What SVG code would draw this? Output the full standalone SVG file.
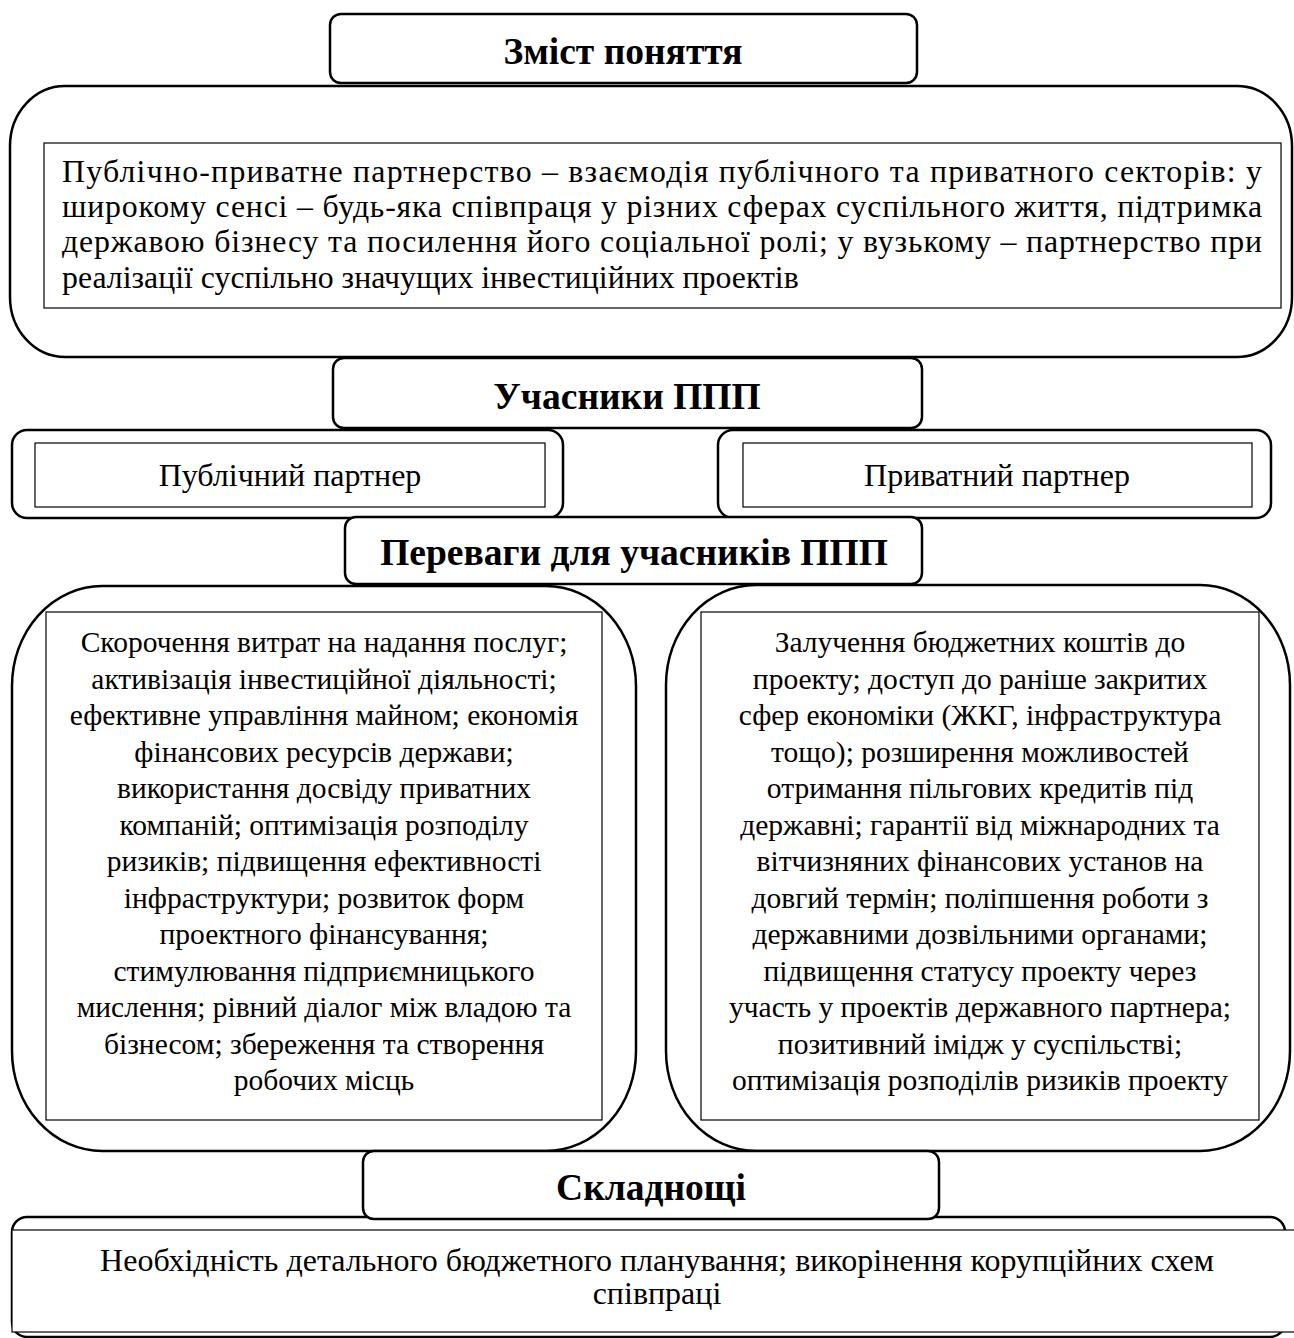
<svg xmlns="http://www.w3.org/2000/svg" width="1294" height="1338" viewBox="0 0 1294 1338">
<style>
.outer{fill:#fff;stroke:#000;stroke-width:2.5}
.inner{fill:#fff;stroke:#000;stroke-width:1.2}
.title{font-family:"Liberation Serif","Times New Roman",serif;font-weight:bold;font-size:37.5px;text-anchor:middle;fill:#000}
.body{font-family:"Liberation Serif","Times New Roman",serif;fill:#000}
.top{font-size:31.8px}
.ben{font-size:29.5px;text-anchor:middle}
.mid{font-size:32px;text-anchor:middle}
</style>
<rect width="1294" height="1338" fill="#fff"/>
<g id="connectors"></g>
<g id="content-box">
<rect class="outer" x="10" y="86" width="1282" height="271" rx="55" ry="60"/>
<rect class="inner" x="44" y="143" width="1237" height="165"/>
<text class="body top" x="62" y="182" textLength="1200" lengthAdjust="spacing">Публічно-приватне партнерство –  взаємодія публічного та приватного секторів: у</text>
<text class="body top" x="62" y="217" textLength="1200" lengthAdjust="spacing">широкому сенсі – будь-яка співпраця у різних сферах суспільного життя, підтримка</text>
<text class="body top" x="62" y="252" textLength="1200" lengthAdjust="spacing">державою бізнесу та посилення його соціальної ролі; у вузькому –  партнерство при</text>
<text class="body top" x="62" y="288">реалізації суспільно значущих інвестиційних проектів</text>
</g>
<g id="title-content">
<rect class="outer" x="330" y="14" width="587" height="69" rx="11"/>
<text class="title" x="623" y="64">Зміст поняття</text>
</g>
<g id="public-partner">
<rect class="outer" x="12" y="430" width="551" height="88" rx="15"/>
<rect class="inner" x="35" y="443" width="510" height="64"/>
<text class="body mid" x="290" y="486">Публічний партнер</text>
</g>
<g id="private-partner">
<rect class="outer" x="718" y="430" width="553" height="88" rx="15"/>
<rect class="inner" x="743" y="443" width="509" height="64"/>
<text class="body mid" x="997" y="486">Приватний партнер</text>
</g>
<g id="title-participants">
<rect class="outer" x="333" y="358" width="589" height="70" rx="11"/>
<text class="title" x="627" y="409">Учасники ППП</text>
</g>
<g id="public-benefits">
<rect class="outer" x="12" y="586" width="624" height="565" rx="90" ry="100"/>
<rect class="inner" x="46" y="612" width="556" height="508"/>
<text class="body ben" x="324" y="652">Скорочення витрат на надання послуг;</text>
<text class="body ben" x="324" y="688.5">активізація інвестиційної діяльності;</text>
<text class="body ben" x="324" y="725">ефективне управління майном; економія</text>
<text class="body ben" x="324" y="761.5">фінансових ресурсів держави;</text>
<text class="body ben" x="324" y="798">використання досвіду приватних</text>
<text class="body ben" x="324" y="834.5">компаній; оптимізація розподілу</text>
<text class="body ben" x="324" y="871">ризиків; підвищення ефективності</text>
<text class="body ben" x="324" y="907.5">інфраструктури; розвиток форм</text>
<text class="body ben" x="324" y="944">проектного фінансування;</text>
<text class="body ben" x="324" y="980.5">стимулювання підприємницького</text>
<text class="body ben" x="324" y="1017">мислення; рівний діалог між владою та</text>
<text class="body ben" x="324" y="1053.5">бізнесом; збереження та створення</text>
<text class="body ben" x="324" y="1090">робочих місць</text>
</g>
<g id="private-benefits">
<rect class="outer" x="666" y="585" width="624" height="566" rx="90" ry="100"/>
<rect class="inner" x="701" y="612" width="558" height="508"/>
<text class="body ben" x="980" y="652">Залучення бюджетних коштів до</text>
<text class="body ben" x="980" y="688.5">проекту; доступ до раніше закритих</text>
<text class="body ben" x="980" y="725">сфер економіки (ЖКГ, інфраструктура</text>
<text class="body ben" x="980" y="761.5">тощо); розширення можливостей</text>
<text class="body ben" x="980" y="798">отримання пільгових кредитів під</text>
<text class="body ben" x="980" y="834.5">державні; гарантії від міжнародних та</text>
<text class="body ben" x="980" y="871">вітчизняних фінансових установ на</text>
<text class="body ben" x="980" y="907.5">довгий термін; поліпшення роботи з</text>
<text class="body ben" x="980" y="944">державними дозвільними органами;</text>
<text class="body ben" x="980" y="980.5">підвищення статусу проекту через</text>
<text class="body ben" x="980" y="1017">участь у проектів державного партнера;</text>
<text class="body ben" x="980" y="1053.5">позитивний імідж у суспільстві;</text>
<text class="body ben" x="980" y="1090">оптимізація розподілів ризиків проекту</text>
</g>
<g id="title-benefits">
<rect class="outer" x="345" y="517" width="577" height="67" rx="11"/>
<text class="title" x="634" y="565">Переваги для учасників ППП</text>
</g>
<g id="difficulties">
<rect class="outer" x="12" y="1217" width="1273" height="120" rx="15"/>
<rect class="inner" x="12" y="1230" width="1290" height="102"/>
<text class="body mid" x="657" y="1271">Необхідність детального бюджетного планування; викорінення корупційних схем</text>
<text class="body mid" x="657" y="1304">співпраці</text>
</g>
<g id="title-difficulties">
<rect class="outer" x="363" y="1151" width="576" height="68" rx="11"/>
<text class="title" x="651" y="1200">Складнощі</text>
</g>
</svg>
